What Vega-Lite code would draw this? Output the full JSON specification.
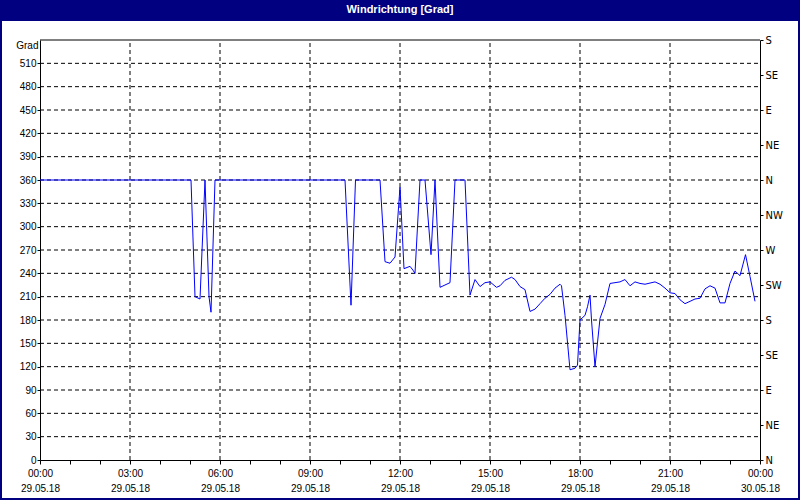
{
  "$schema": "https://vega.github.io/schema/vega-lite/v6.json",
  "width": 796,
  "height": 477,
  "autosize": {"type": "none"},
  "padding": {"left": 2, "right": 2, "top": 21, "bottom": 2},
  "background": "#000080",
  "title": {"text": "Windrichtung [Grad]", "color": "#ffffff", "font": "Liberation Sans", "fontSize": 11, "fontWeight": "bold", "anchor": "middle", "frame": "group", "offset": 6},
  "config": {
    "view": {"fill": "#ffffff", "stroke": null},
    "axis": {"domainColor": "#000000", "tickColor": "#000000", "labelColor": "#000000", "titleColor": "#000000", "labelFont": "Liberation Sans", "labelFontSize": 10, "grid": false}
  },
  "datasets": {
    "wind": [
      {"t": "2018-05-29T00:00", "v": 360},
      {"t": "2018-05-29T05:02", "v": 360},
      {"t": "2018-05-29T05:10", "v": 210},
      {"t": "2018-05-29T05:20", "v": 207},
      {"t": "2018-05-29T05:30", "v": 360},
      {"t": "2018-05-29T05:38", "v": 210},
      {"t": "2018-05-29T05:42", "v": 190},
      {"t": "2018-05-29T05:50", "v": 360},
      {"t": "2018-05-29T10:10", "v": 360},
      {"t": "2018-05-29T10:22", "v": 199},
      {"t": "2018-05-29T10:31", "v": 360},
      {"t": "2018-05-29T11:20", "v": 360},
      {"t": "2018-05-29T11:30", "v": 255},
      {"t": "2018-05-29T11:40", "v": 253},
      {"t": "2018-05-29T11:50", "v": 261},
      {"t": "2018-05-29T12:00", "v": 351},
      {"t": "2018-05-29T12:08", "v": 246},
      {"t": "2018-05-29T12:20", "v": 249},
      {"t": "2018-05-29T12:26", "v": 244},
      {"t": "2018-05-29T12:30", "v": 240},
      {"t": "2018-05-29T12:40", "v": 360},
      {"t": "2018-05-29T12:50", "v": 360},
      {"t": "2018-05-29T13:02", "v": 264},
      {"t": "2018-05-29T13:10", "v": 360},
      {"t": "2018-05-29T13:20", "v": 222},
      {"t": "2018-05-29T13:40", "v": 228},
      {"t": "2018-05-29T13:50", "v": 360},
      {"t": "2018-05-29T14:10", "v": 360},
      {"t": "2018-05-29T14:20", "v": 212},
      {"t": "2018-05-29T14:30", "v": 232},
      {"t": "2018-05-29T14:40", "v": 223},
      {"t": "2018-05-29T14:50", "v": 228},
      {"t": "2018-05-29T15:00", "v": 229},
      {"t": "2018-05-29T15:13", "v": 222},
      {"t": "2018-05-29T15:20", "v": 224},
      {"t": "2018-05-29T15:30", "v": 231},
      {"t": "2018-05-29T15:43", "v": 235},
      {"t": "2018-05-29T15:50", "v": 232},
      {"t": "2018-05-29T16:00", "v": 223},
      {"t": "2018-05-29T16:10", "v": 219},
      {"t": "2018-05-29T16:20", "v": 191},
      {"t": "2018-05-29T16:30", "v": 194},
      {"t": "2018-05-29T16:40", "v": 201},
      {"t": "2018-05-29T16:50", "v": 208},
      {"t": "2018-05-29T17:00", "v": 213},
      {"t": "2018-05-29T17:10", "v": 221},
      {"t": "2018-05-29T17:20", "v": 226},
      {"t": "2018-05-29T17:23", "v": 224},
      {"t": "2018-05-29T17:30", "v": 186},
      {"t": "2018-05-29T17:40", "v": 116},
      {"t": "2018-05-29T17:50", "v": 118},
      {"t": "2018-05-29T17:55", "v": 122},
      {"t": "2018-05-29T18:00", "v": 180},
      {"t": "2018-05-29T18:10", "v": 186},
      {"t": "2018-05-29T18:15", "v": 197},
      {"t": "2018-05-29T18:20", "v": 212},
      {"t": "2018-05-29T18:23", "v": 180},
      {"t": "2018-05-29T18:30", "v": 120},
      {"t": "2018-05-29T18:40", "v": 182},
      {"t": "2018-05-29T18:50", "v": 200},
      {"t": "2018-05-29T19:00", "v": 227},
      {"t": "2018-05-29T19:10", "v": 228},
      {"t": "2018-05-29T19:20", "v": 229},
      {"t": "2018-05-29T19:30", "v": 232},
      {"t": "2018-05-29T19:40", "v": 224},
      {"t": "2018-05-29T19:50", "v": 229},
      {"t": "2018-05-29T20:00", "v": 227},
      {"t": "2018-05-29T20:10", "v": 226},
      {"t": "2018-05-29T20:30", "v": 229},
      {"t": "2018-05-29T20:40", "v": 226},
      {"t": "2018-05-29T20:50", "v": 221},
      {"t": "2018-05-29T21:00", "v": 215},
      {"t": "2018-05-29T21:10", "v": 214},
      {"t": "2018-05-29T21:20", "v": 206},
      {"t": "2018-05-29T21:30", "v": 201},
      {"t": "2018-05-29T21:40", "v": 204},
      {"t": "2018-05-29T21:50", "v": 207},
      {"t": "2018-05-29T22:00", "v": 208},
      {"t": "2018-05-29T22:10", "v": 220},
      {"t": "2018-05-29T22:20", "v": 224},
      {"t": "2018-05-29T22:30", "v": 221},
      {"t": "2018-05-29T22:40", "v": 202},
      {"t": "2018-05-29T22:50", "v": 202},
      {"t": "2018-05-29T23:00", "v": 227},
      {"t": "2018-05-29T23:10", "v": 243},
      {"t": "2018-05-29T23:20", "v": 237},
      {"t": "2018-05-29T23:31", "v": 264},
      {"t": "2018-05-29T23:40", "v": 236},
      {"t": "2018-05-29T23:50", "v": 204}
    ],
    "gx": [
      {"t": "2018-05-29T03:00"}, {"t": "2018-05-29T06:00"}, {"t": "2018-05-29T09:00"},
      {"t": "2018-05-29T12:00"}, {"t": "2018-05-29T15:00"}, {"t": "2018-05-29T18:00"},
      {"t": "2018-05-29T21:00"}
    ],
    "gy": [
      {"v": 30}, {"v": 60}, {"v": 90}, {"v": 120}, {"v": 150}, {"v": 180}, {"v": 210},
      {"v": 240}, {"v": 270}, {"v": 300}, {"v": 330}, {"v": 360}, {"v": 390}, {"v": 420},
      {"v": 450}, {"v": 480}, {"v": 510}
    ],
    "frame": [{"k": "top"}]
  },
  "layer": [
    {
      "data": {"name": "gx"},
      "mark": {"type": "rule", "color": "#000000", "strokeWidth": 1, "strokeDash": [4, 3]},
      "encoding": {
        "x": {"field": "t", "type": "temporal", "axis": null,
              "scale": {"domain": [{"year": 2018, "month": 5, "date": 29, "hours": 0}, {"year": 2018, "month": 5, "date": 30, "hours": 0}], "range": [38, 758], "nice": false}},
        "y": {"datum": 0, "type": "quantitative", "axis": null, "scale": {"domain": [0, 540], "range": [439, 19], "nice": false}},
        "y2": {"datum": 540}
      }
    },
    {
      "data": {"name": "gy"},
      "mark": {"type": "rule", "color": "#000000", "strokeWidth": 1, "strokeDash": [4, 3]},
      "encoding": {
        "y": {"field": "v", "type": "quantitative", "axis": null},
        "x": {"datum": {"year": 2018, "month": 5, "date": 29, "hours": 0}, "type": "temporal", "axis": null},
        "x2": {"datum": {"year": 2018, "month": 5, "date": 30, "hours": 0}}
      }
    },
    {
      "data": {"name": "wind"},
      "mark": {"type": "line", "color": "#0000ff", "strokeWidth": 1},
      "encoding": {
        "x": {"field": "t", "type": "temporal",
              "axis": {"orient": "bottom", "offset": -38, "title": null,
                       "values": [
                         {"year": 2018, "month": 5, "date": 29, "hours": 0}, {"year": 2018, "month": 5, "date": 29, "hours": 1},
                         {"year": 2018, "month": 5, "date": 29, "hours": 2}, {"year": 2018, "month": 5, "date": 29, "hours": 3},
                         {"year": 2018, "month": 5, "date": 29, "hours": 4}, {"year": 2018, "month": 5, "date": 29, "hours": 5},
                         {"year": 2018, "month": 5, "date": 29, "hours": 6}, {"year": 2018, "month": 5, "date": 29, "hours": 7},
                         {"year": 2018, "month": 5, "date": 29, "hours": 8}, {"year": 2018, "month": 5, "date": 29, "hours": 9},
                         {"year": 2018, "month": 5, "date": 29, "hours": 10}, {"year": 2018, "month": 5, "date": 29, "hours": 11},
                         {"year": 2018, "month": 5, "date": 29, "hours": 12}, {"year": 2018, "month": 5, "date": 29, "hours": 13},
                         {"year": 2018, "month": 5, "date": 29, "hours": 14}, {"year": 2018, "month": 5, "date": 29, "hours": 15},
                         {"year": 2018, "month": 5, "date": 29, "hours": 16}, {"year": 2018, "month": 5, "date": 29, "hours": 17},
                         {"year": 2018, "month": 5, "date": 29, "hours": 18}, {"year": 2018, "month": 5, "date": 29, "hours": 19},
                         {"year": 2018, "month": 5, "date": 29, "hours": 20}, {"year": 2018, "month": 5, "date": 29, "hours": 21},
                         {"year": 2018, "month": 5, "date": 29, "hours": 22}, {"year": 2018, "month": 5, "date": 29, "hours": 23},
                         {"year": 2018, "month": 5, "date": 30, "hours": 0}
                       ],
                       "labelExpr": "hours(datum.value) % 3 == 0 ? [timeFormat(datum.value, '%H:%M'), timeFormat(datum.value, '%d.%m.%y')] : ''",
                       "labelOverlap": false, "labelFlush": false, "labelBound": false, "tickSize": 4, "labelPadding": 4,
                       "labelLineHeight": 15, "labelBaseline": "top"}},
        "y": {"field": "v", "type": "quantitative",
              "axis": {"orient": "left", "offset": -38, "values": [0, 30, 60, 90, 120, 150, 180, 210, 240, 270, 300, 330, 360, 390, 420, 450, 480, 510],
                       "tickSize": 3, "labelPadding": 1, "labelOverlap": false,
                       "title": "Grad", "titleAngle": 0, "titleX": -2, "titleY": 24, "titleAlign": "right", "titleBaseline": "middle",
                       "titleFont": "Liberation Sans", "titleFontSize": 10, "titleFontWeight": "normal"}}
      }
    },
    {
      "data": {"name": "frame"},
      "mark": {"type": "rule", "color": "#000000", "strokeWidth": 1},
      "encoding": {
        "y": {"datum": 540, "type": "quantitative",
              "axis": {"orient": "right", "offset": -38, "title": null, "values": [0, 45, 90, 135, 180, 225, 270, 315, 360, 405, 450, 495, 540],
                       "labelExpr": "['N','NE','E','SE','S','SW','W','NW'][round(datum.value / 45) % 8]",
                       "tickSize": 3, "labelPadding": 2, "labelFont": "DejaVu Sans", "labelFontSize": 10, "labelOverlap": false}},
        "x": {"datum": {"year": 2018, "month": 5, "date": 29, "hours": 0}, "type": "temporal", "axis": null},
        "x2": {"datum": {"year": 2018, "month": 5, "date": 30, "hours": 0}}
      }
    }
  ],
  "resolve": {"axis": {"x": "independent", "y": "independent"}}
}
